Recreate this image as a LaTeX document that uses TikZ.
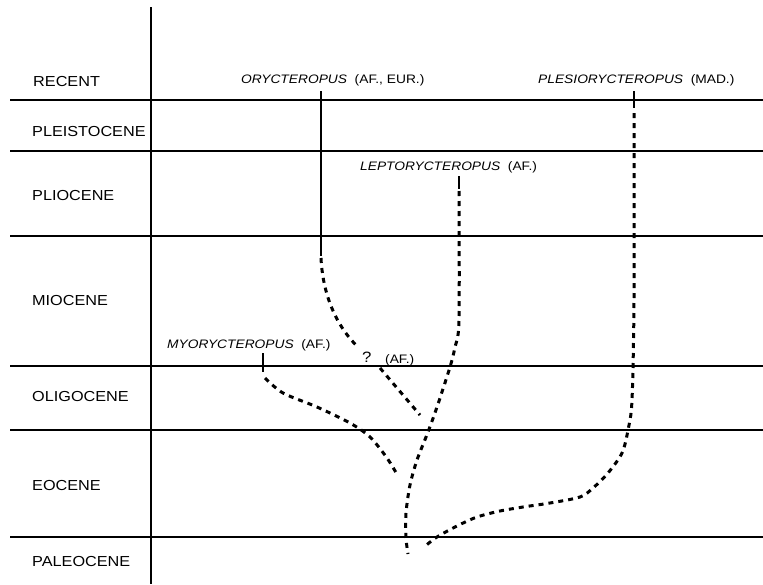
\documentclass[tikz,border=0pt]{standalone}
\usepackage{fontspec}
\setmainfont[FakeStretch=1.12]{Liberation Sans}
\begin{document}
\begin{tikzpicture}[x=1pt,y=-1pt,
  epoch/.style={anchor=base west,inner sep=0pt,font=\fontsize{14.5}{15}\selectfont},
  taxon/.style={anchor=base west,inner sep=0pt,font=\fontsize{12.3}{13}\selectfont},
  rule/.style={line width=2.2pt},
  tick/.style={line width=2.6pt},
  lineage/.style={line width=3pt,dash pattern=on 5pt off 5pt}]
\useasboundingbox (0,0) rectangle (763,584);
% axis and period boundaries
\coordinate (axT) at (151,7);
\coordinate (axB) at (151,584);
\draw[rule] (axT) -- (axB);
\foreach \yy/\nm in {100/a,151/b,236/c,366/d,430/e,537/f}{
  \coordinate (L\nm) at (10,\yy);
  \coordinate (R\nm) at (763,\yy);
  \draw[rule] (L\nm) -- (R\nm);
}
% epoch labels
\node[epoch] (recent) at (33,86) {RECENT};
\node[epoch] (pleist) at (32,136) {PLEISTOCENE};
\node[epoch] (plio) at (32,200) {PLIOCENE};
\node[epoch] (mio) at (32,305) {MIOCENE};
\node[epoch] (oligo) at (32,401) {OLIGOCENE};
\node[epoch] (eoc) at (32,490) {EOCENE};
\node[epoch] (paleo) at (32,566) {PALEOCENE};
% taxa labels
\node[taxon] (oryl) at (241,83) {\textit{ORYCTEROPUS}\ \ (AF., EUR.)};
\node[taxon] (plel) at (538,83) {\textit{PLESIORYCTEROPUS}\ \ (MAD.)};
\node[taxon] (lepl) at (360,170) {\textit{LEPTORYCTEROPUS}\ \ (AF.)};
\node[taxon] (myol) at (167,348) {\textit{MYORYCTEROPUS}\ \ (AF.)};
\node[anchor=base west,inner sep=0pt,font=\fontsize{15}{15}\selectfont] (qm) at (362,362) {?};
\node[taxon] (afl) at (385,363) {(AF.)};
% Orycteropus
\coordinate (o1) at (321,91);
\coordinate (o2) at (321,256);
\coordinate (o3) at (321,258);
\coordinate (o4) at (358,347);
\coordinate (o5) at (380,368);
\coordinate (o6) at (420,415);
\draw[tick] (o1) -- (o2);
\draw[lineage] (o3) .. controls (323,300) and (340,330) .. (o4);
\draw[lineage] (o5) -- (o6);
% Leptorycteropus
\coordinate (l1) at (459,176);
\coordinate (l2) at (459,189);
\draw[tick] (l1) -- (l2);
\draw[lineage] plot[smooth] coordinates {(459,191) (459,320) (455,347) (450,367) (437,407) (428,432) (417,460) (410,485) (406,513) (406,538) (408,554)};
% Myorycteropus
\coordinate (m1) at (263,353);
\coordinate (m2) at (263,372);
\draw[tick] (m1) -- (m2);
\draw[lineage] plot[smooth] coordinates {(265,378) (283,393) (317,407) (350,423) (370,437) (387,458) (398,476)};
% Plesiorycteropus
\coordinate (p1) at (634,91);
\coordinate (p2) at (634,108);
\draw[tick] (p1) -- (p2);
\draw[lineage] plot[smooth] coordinates {(634,113) (634,300) (632,400) (628,430) (622,453) (608,473) (593,488) (580,497) (550,503) (523,507) (500,511) (477,517) (457,526) (437,537) (424,547)};
\end{tikzpicture}
\end{document}
